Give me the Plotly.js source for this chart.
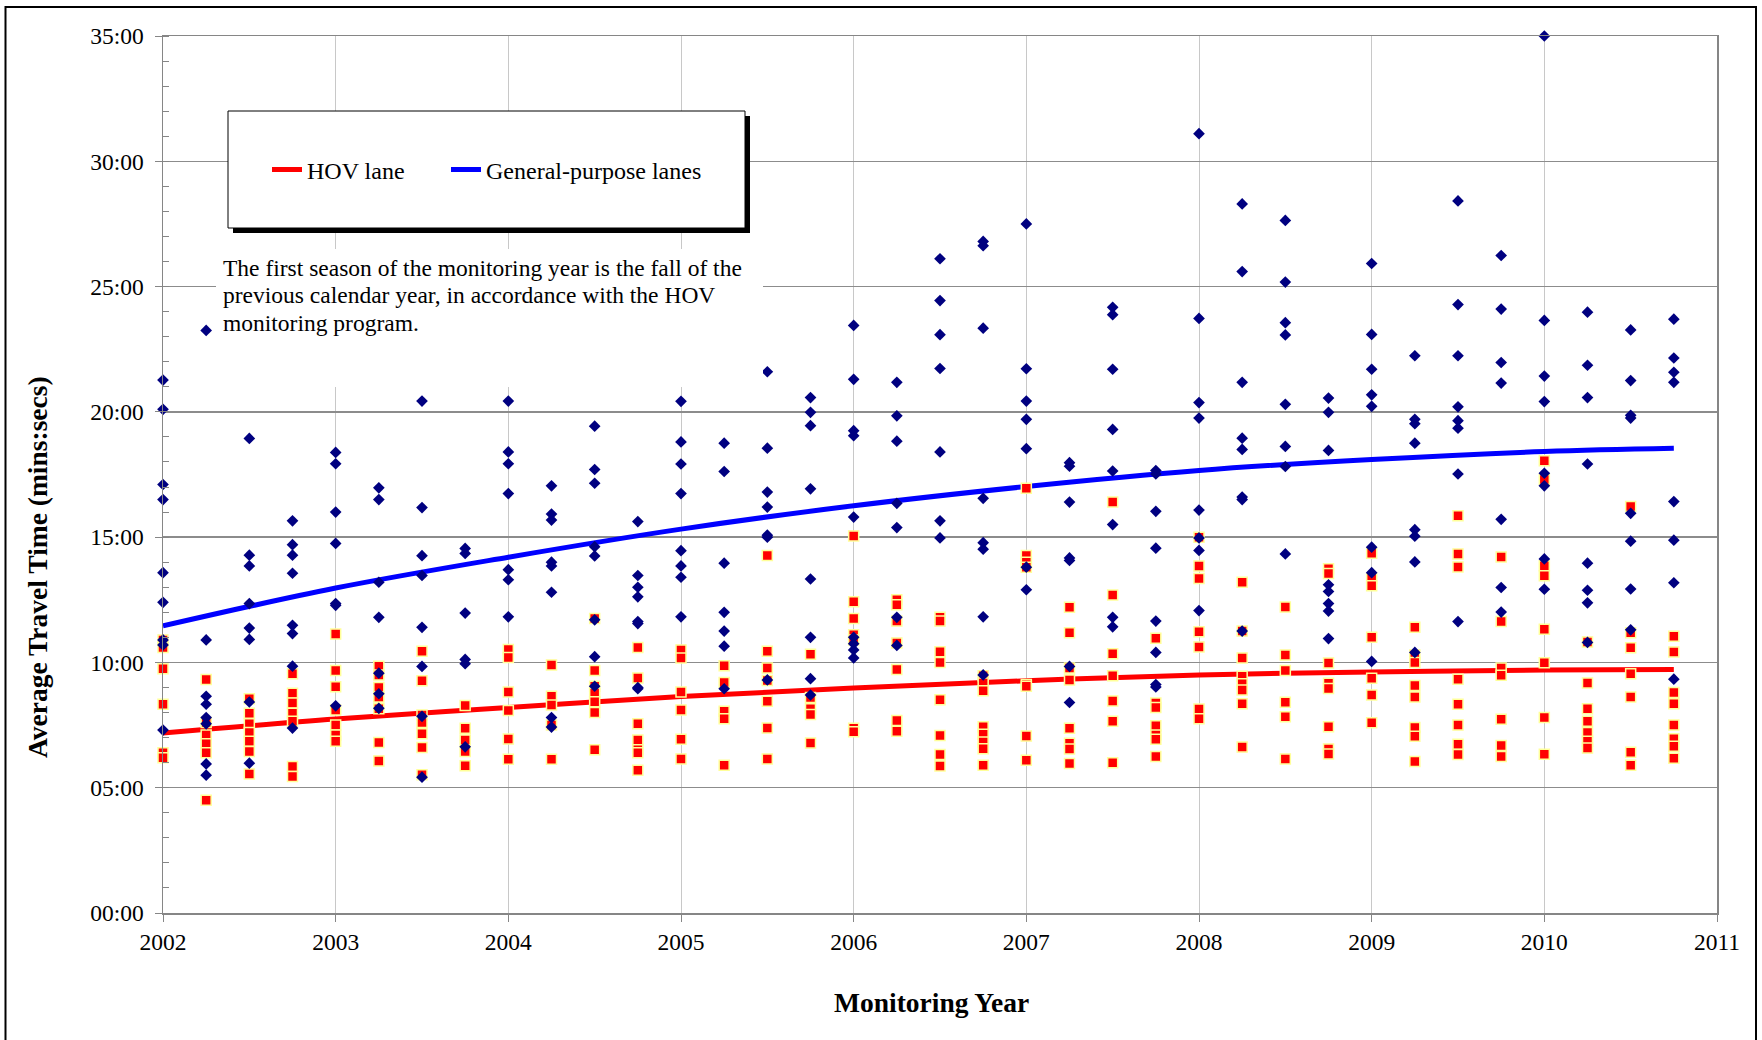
<!DOCTYPE html>
<html>
<head>
<meta charset="utf-8">
<script src="https://cdn.plot.ly/plotly-3.0.1.min.js"></script>
<style>
  body { margin: 0; background: #fff; }
  #graph { width: 1762px; height: 1040px; }
</style>
</head>
<body>
<div id="graph"></div>
<script>
// monitoring quarters (first season = fall of previous calendar year)
const quarters = [2002, 2002.25, 2002.5, 2002.75, 2003, 2003.25, 2003.5, 2003.75,
    2004, 2004.25, 2004.5, 2004.75, 2005, 2005.25, 2005.5, 2005.75,
    2006, 2006.25, 2006.5, 2006.75, 2007, 2007.25, 2007.5, 2007.75,
    2008, 2008.25, 2008.5, 2008.75, 2009, 2009.25, 2009.5, 2009.75,
    2010, 2010.25, 2010.5, 2010.75];

// general-purpose lanes travel times, minutes (one list per quarter)
const gpTimes = [
    [21.27, 20.1, 17.1, 16.5, 13.58, 12.4, 10.9, 10.7, 7.3],
    [23.25, 10.9, 8.65, 8.33, 7.8, 7.55, 5.95, 5.5],
    [18.94, 14.28, 13.85, 12.35, 11.37, 10.92, 8.42, 5.98],
    [15.65, 14.7, 14.28, 13.56, 11.48, 11.15, 9.85, 7.38],
    [18.38, 17.93, 16.0, 14.75, 12.35, 12.28, 8.27],
    [16.97, 16.5, 13.2, 11.8, 9.57, 8.75, 8.17],
    [20.43, 16.18, 14.26, 13.47, 11.4, 9.84, 7.85, 5.42],
    [14.55, 14.35, 11.97, 10.12, 9.95, 6.63],
    [20.43, 18.4, 17.93, 16.74, 13.7, 13.3, 11.82],
    [17.05, 15.92, 15.68, 14.0, 13.85, 12.8, 7.8, 7.42],
    [19.43, 17.7, 17.15, 14.62, 14.25, 11.7, 10.23, 9.05],
    [15.62, 13.47, 13.0, 12.62, 11.63, 11.55, 9.0, 8.95],
    [20.42, 18.8, 17.92, 16.74, 14.46, 13.85, 13.4, 11.82],
    [18.75, 17.62, 13.96, 12.0, 11.25, 10.65, 8.95],
    [21.6, 18.55, 16.8, 16.2, 15.08, 15.0, 9.3],
    [20.57, 19.98, 19.45, 16.93, 13.33, 11.0, 9.35, 8.7],
    [23.45, 21.3, 19.25, 19.05, 15.8, 11.0, 10.75, 10.5, 10.18],
    [21.18, 19.84, 18.83, 16.35, 15.38, 11.8, 10.68],
    [26.11, 24.44, 23.08, 21.73, 18.4, 15.65, 14.97],
    [26.8, 26.63, 23.34, 16.55, 14.78, 14.52, 11.82, 9.5],
    [27.5, 21.72, 20.43, 19.7, 18.53, 13.8, 12.9],
    [17.97, 17.83, 16.4, 14.17, 14.07, 9.84, 8.4],
    [24.17, 23.88, 21.7, 19.3, 17.64, 15.5, 11.8, 11.42],
    [17.66, 17.52, 16.03, 14.56, 11.65, 10.4, 9.12, 9.02],
    [31.1, 23.73, 20.37, 19.75, 16.08, 14.97, 14.47, 12.07],
    [28.3, 25.6, 21.18, 18.95, 18.5, 16.6, 16.5, 11.25],
    [27.64, 25.18, 23.56, 23.07, 20.3, 18.62, 17.82, 14.33],
    [20.55, 19.98, 18.46, 13.1, 12.83, 12.35, 12.05, 10.95],
    [25.92, 23.09, 21.7, 20.68, 20.22, 14.6, 13.58, 10.04],
    [22.24, 19.7, 19.53, 18.75, 15.3, 15.04, 14.01, 10.4],
    [28.42, 24.28, 22.24, 20.2, 19.65, 19.35, 17.52, 11.63],
    [26.24, 24.1, 21.97, 21.15, 15.71, 12.99, 12.01],
    [35.0, 23.65, 21.43, 20.41, 17.55, 17.05, 14.13, 12.92],
    [23.98, 21.86, 20.57, 17.92, 13.96, 12.88, 12.38, 10.8],
    [23.27, 21.25, 19.86, 19.75, 15.95, 14.84, 12.93, 11.3],
    [23.7, 22.15, 21.58, 21.18, 16.42, 14.88, 13.18, 9.33]
];

// HOV lane travel times, minutes
const hovTimes = [
    [10.9, 10.6, 9.75, 8.33, 6.4, 6.2],
    [9.32, 7.6, 7.1, 6.75, 6.4, 4.5],
    [8.55, 7.97, 7.55, 7.2, 6.85, 6.45, 5.55],
    [9.55, 8.77, 8.38, 7.97, 7.65, 5.85, 5.45],
    [11.13, 9.68, 9.03, 8.1, 7.5, 7.1, 6.85],
    [9.85, 9.5, 9.0, 8.62, 8.15, 6.8, 6.07],
    [10.45, 9.27, 7.9, 7.6, 7.15, 6.6, 5.52],
    [8.28, 7.37, 6.9, 6.45, 5.88],
    [10.52, 10.2, 8.82, 8.08, 6.94, 6.14],
    [9.9, 8.65, 8.3, 7.5, 6.14],
    [11.75, 9.68, 9.05, 8.78, 8.43, 8.0, 6.52],
    [10.6, 9.38, 7.55, 6.9, 6.52, 6.4, 5.7],
    [10.5, 10.18, 8.82, 8.1, 6.93, 6.15],
    [9.87, 9.2, 8.05, 7.75, 5.9],
    [14.27, 10.45, 9.78, 9.28, 8.45, 7.38, 6.15],
    [10.33, 8.6, 8.15, 7.92, 6.78],
    [15.05, 12.42, 11.75, 11.1, 10.9, 7.37, 7.23],
    [12.5, 12.3, 11.65, 10.78, 9.72, 7.68, 7.25],
    [11.8, 11.65, 10.43, 10.0, 8.51, 7.08, 6.33, 5.87],
    [9.47, 9.18, 8.87, 7.43, 7.13, 6.82, 6.56, 5.9],
    [16.95, 14.27, 14.0, 13.8, 9.12, 9.05, 7.06, 6.1],
    [12.2, 11.18, 9.78, 9.3, 7.37, 6.77, 6.55, 5.97],
    [16.4, 12.69, 10.35, 9.47, 8.46, 7.65, 6.0],
    [10.96, 8.38, 8.2, 7.47, 7.1, 6.93, 6.25],
    [15.0, 13.85, 13.35, 11.22, 10.62, 8.14, 7.75],
    [13.2, 11.25, 10.18, 9.45, 9.15, 8.9, 8.35, 6.62],
    [12.21, 10.3, 9.68, 8.41, 7.83, 6.15],
    [13.74, 13.55, 9.98, 9.17, 8.96, 7.43, 6.55, 6.35],
    [14.36, 13.35, 13.06, 11.0, 9.37, 8.7, 7.59],
    [11.4, 10.3, 10.0, 9.08, 8.62, 7.4, 7.05, 6.05],
    [15.85, 14.33, 13.81, 9.33, 8.33, 7.5, 6.73, 6.33],
    [14.21, 11.63, 9.78, 9.49, 7.73, 6.68, 6.25],
    [18.05, 17.3, 13.86, 13.46, 11.32, 9.99, 7.8, 6.34],
    [10.82, 9.18, 8.15, 7.65, 7.2, 6.85, 6.58],
    [16.22, 11.18, 10.59, 9.55, 8.62, 6.42, 5.9],
    [11.04, 10.42, 8.8, 8.35, 7.5, 6.95, 6.65, 6.18]
];

// trend lines
const trendYears = [2002, 2003, 2004, 2005, 2006, 2007, 2008, 2009, 2010, 2010.75];
const gpTrend = [11.46, 12.97, 14.2, 15.32, 16.25, 17.02, 17.66, 18.1, 18.42, 18.55];
const hovTrend = [7.18, 7.74, 8.2, 8.64, 8.98, 9.27, 9.5, 9.62, 9.7, 9.72];

const xTickVals = [2002, 2003, 2004, 2005, 2006, 2007, 2008, 2009, 2010, 2011];
const yTickVals = [0, 5, 10, 15, 20, 25, 30, 35];
const yTickText = ['00:00', '05:00', '10:00', '15:00', '20:00', '25:00', '30:00', '35:00'];

const noteLines = [
    'The first season of the monitoring year is the fall of the',
    'previous calendar year, in accordance with the HOV',
    'monitoring program.'
];

function flatten(lists) {
    const x = [];
    const y = [];
    for (let i = 0; i < quarters.length; i++) {
        for (const v of lists[i]) {
            x.push(quarters[i]);
            y.push(v);
        }
    }
    return {x, y};
}

const gp = flatten(gpTimes);
const hov = flatten(hovTimes);

const serif = '"Liberation Serif", "Times New Roman", serif';

const traces = [
    {
        x: trendYears, y: hovTrend, name: 'HOV lane', mode: 'lines', legend: 'legend',
        line: {color: '#ff0000', width: 5, shape: 'spline'}
    },
    {
        x: trendYears, y: gpTrend, name: 'General-purpose lanes', mode: 'lines', legend: 'legend2',
        line: {color: '#0000ff', width: 5, shape: 'spline'}
    },
    {
        x: hov.x, y: hov.y, mode: 'markers', showlegend: false, cliponaxis: false,
        marker: {symbol: 'square', size: 10, color: '#ff0000', line: {color: '#ffff99', width: 1.5}}
    },
    {
        x: gp.x, y: gp.y, mode: 'markers', showlegend: false, cliponaxis: false,
        marker: {symbol: 'diamond', size: 9, color: '#000080', line: {width: 0}}
    }
];

// pixel -> paper helpers for the plot box (163..1717, 36..913)
const px = v => (v - 163) / 1554;
const py = v => (913 - v) / 877;

const legendBase = {
    xref: 'paper', yref: 'paper',
    xanchor: 'left', yanchor: 'middle',
    bgcolor: 'rgba(0,0,0,0)', borderwidth: 0,
    font: {family: serif, size: 24, color: '#000000'}
};

const noteAnnotations = noteLines.map((t, i) => ({
    text: t, xref: 'paper', yref: 'paper', x: px(221), y: py(268 + i * 27.5),
    xanchor: 'left', yanchor: 'middle', align: 'left', showarrow: false,
    font: {family: serif, size: 23.5, color: '#000000'}
}));

const layout = {
    width: 1762,
    height: 1040,
    margin: {l: 163, r: 45, t: 36, b: 127},
    paper_bgcolor: '#ffffff',
    plot_bgcolor: '#ffffff',
    font: {family: serif, size: 23, color: '#000000'},
    showlegend: true,
    hovermode: false,
    xaxis: {
        range: [2002, 2011],
        tickmode: 'array',
        tickvals: xTickVals,
        ticktext: xTickVals.map(String),
        ticks: 'outside', ticklen: 7, tickcolor: '#868686', tickwidth: 1,
        showline: true, linecolor: '#868686', linewidth: 1.5, mirror: true,
        showgrid: true, gridcolor: '#c8c8c8', gridwidth: 1,
        zeroline: false,
        tickfont: {family: serif, size: 23.5, color: '#000000'}
    },
    yaxis: {
        range: [0, 35],
        tickmode: 'array',
        tickvals: yTickVals,
        ticktext: yTickText,
        ticks: 'outside', ticklen: 7, tickcolor: '#868686', tickwidth: 1,
        minor: {dtick: 1, tick0: 0, ticks: 'inside', ticklen: 6, tickcolor: '#868686', showgrid: false},
        showline: true, linecolor: '#868686', linewidth: 1.5, mirror: true,
        showgrid: true, gridcolor: '#8c8c8c', gridwidth: 1.5,
        zeroline: false,
        ticklabelstandoff: 6,
        tickfont: {family: serif, size: 23.5, color: '#000000'}
    },
    legend: Object.assign({x: px(267), y: py(170)}, legendBase),
    legend2: Object.assign({x: px(446), y: py(170)}, legendBase),
    shapes: [
        // outer frame
        {type: 'rect', xref: 'paper', yref: 'paper', x0: px(5.5), x1: px(1756), y0: py(1050), y1: py(7),
            line: {color: '#000000', width: 2}, layer: 'above'},
        // legend box with shadow
        {type: 'rect', xref: 'paper', yref: 'paper', x0: px(233), x1: px(750), y0: py(233), y1: py(116),
            fillcolor: '#000000', line: {width: 0}, layer: 'above'},
        {type: 'rect', xref: 'paper', yref: 'paper', x0: px(228), x1: px(745), y0: py(228), y1: py(111),
            fillcolor: '#ffffff', line: {color: '#000000', width: 1}, layer: 'above'},
        // note background
        {type: 'rect', xref: 'paper', yref: 'paper', x0: px(216), x1: px(763), y0: py(387), y1: py(249),
            fillcolor: '#ffffff', line: {width: 0}, layer: 'above'}
    ],
    annotations: noteAnnotations.concat([
        {text: '<b>Monitoring Year</b>', xref: 'paper', yref: 'paper', x: px(931), y: py(1002),
            xanchor: 'center', yanchor: 'middle', showarrow: false,
            font: {family: serif, size: 27.5, color: '#000000'}},
        {text: '<b>Average Travel Time (mins:secs)</b>', xref: 'paper', yref: 'paper', x: px(37), y: py(567),
            xanchor: 'center', yanchor: 'middle', textangle: -90, showarrow: false,
            font: {family: serif, size: 27.5, color: '#000000'}}
    ])
};

Plotly.newPlot('graph', traces, layout, {staticPlot: true, displayModeBar: false});
</script>
</body>
</html>
